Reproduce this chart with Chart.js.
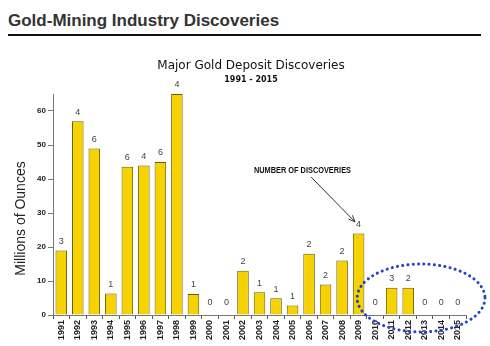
<!DOCTYPE html>
<html lang="en">
<head>
  <meta charset="UTF-8" />
  <title>Gold-Mining Industry Discoveries</title>
  <script src="https://cdn.jsdelivr.net/npm/chart.js"></script>
  <style>
    body {
      margin: 0;
      width: 490px;
      height: 346px;
      overflow: hidden;
      position: relative;
      background: #fff;
      font-family: "Liberation Sans", Arial, sans-serif;
    }
    h2 {
      position: absolute;
      left: 8px;
      top: 11px;
      margin: 0;
      font-size: 17px;
      line-height: 20px;
      color: #333;
    }
    .rule {
      position: absolute;
      left: 8px;
      top: 34px;
      width: 473px;
      height: 2px;
      background: #111;
    }
    .wrap {
      position: absolute;
      left: 0;
      top: 40px;
      width: 490px;
      height: 306px;
    }
  </style>
</head>
<body>
  <h2>Gold-Mining Industry Discoveries</h2>
  <div class="rule"></div>
  <div class="wrap"><canvas id="goldChart"></canvas></div>

  <script>
    const years = ['1991', '1992', '1993', '1994', '1995', '1996', '1997', '1998', '1999', '2000',
                   '2001', '2002', '2003', '2004', '2005', '2006', '2007', '2008', '2009', '2010',
                   '2011', '2012', '2013', '2014', '2015'];
    // million ounces found per year
    const ounces = [19, 57, 49, 6.3, 43.6, 44, 45, 65, 6.2, 0,
                    0, 13, 6.7, 4.9, 2.8, 18, 9, 16, 24, 0,
                    8, 8, 0, 0, 0];
    // number of deposits found per year (printed above bars)
    const discoveries = [3, 4, 6, 1, 6, 4, 6, 4, 1, 0,
                         0, 2, 1, 1, 1, 2, 2, 2, 4, 0,
                         3, 2, 0, 0, 0];
    const yTicks = [0, 10, 20, 30, 40, 50, 60];

    // counts above each bar, y axis title, arrow note and the dotted ring
    const extras = {
      id: 'extras',
      afterDatasetsDraw(chart) {
        const { ctx, chartArea, scales: { x, y } } = chart;
        const meta = chart.getDatasetMeta(0);
        ctx.save();

        ctx.font = '9px "Liberation Sans", Arial, sans-serif';
        ctx.fillStyle = '#444';
        ctx.textAlign = 'center';
        ctx.textBaseline = 'middle';
        meta.data.forEach((bar, i) => {
          const lift = ounces[i] === 0 ? 12 : 9;
          ctx.fillText(String(discoveries[i]), bar.x, bar.y - lift);
        });

        // y axis title
        ctx.save();
        ctx.translate(21, (chartArea.top + chartArea.bottom) / 2 + 14);
        ctx.rotate(-Math.PI / 2);
        ctx.font = '14px "Liberation Sans", Arial, sans-serif';
        ctx.fillStyle = '#222';
        ctx.fillText('Millions of Ounces', 0, 0);
        ctx.restore();

        // note with arrow pointing at 2009
        const note = 'NUMBER OF DISCOVERIES';
        ctx.font = 'bold 9px "Liberation Sans Narrow", "Liberation Sans", Arial, sans-serif';
        ctx.fillStyle = '#111';
        const w = ctx.measureText(note).width;
        const nx = x.getPixelForValue(14.6), ny = y.getPixelForValue(42.6);
        ctx.save();
        ctx.translate(nx, ny);
        ctx.scale(97 / w, 1);
        ctx.fillText(note, 0, 0);
        ctx.restore();

        const x0 = x.getPixelForValue(15.12), y0 = y.getPixelForValue(40.6);
        const x1 = x.getPixelForValue(17.78), y1 = y.getPixelForValue(27.4);
        const ang = Math.atan2(y1 - y0, x1 - x0);
        ctx.strokeStyle = '#333';
        ctx.lineWidth = 1;
        ctx.beginPath();
        ctx.moveTo(x0, y0);
        ctx.lineTo(x1, y1);
        ctx.moveTo(x1 - 7 * Math.cos(ang - 0.4), y1 - 7 * Math.sin(ang - 0.4));
        ctx.lineTo(x1, y1);
        ctx.lineTo(x1 - 7 * Math.cos(ang + 0.4), y1 - 7 * Math.sin(ang + 0.4));
        ctx.stroke();

        // dotted ring around the recent years
        const cx = x.getPixelForValue(21.78), cy = y.getPixelForValue(5);
        const rx = x.getPixelForValue(21.78 + 3.87) - cx;
        const ry = y.getPixelForValue(0) - y.getPixelForValue(10);
        ctx.strokeStyle = '#2443c8';
        ctx.lineWidth = 3;
        ctx.lineCap = 'round';
        ctx.setLineDash([0.1, 5.2]);
        ctx.beginPath();
        ctx.ellipse(cx, cy, rx, ry, 0, 0, Math.PI * 2);
        ctx.stroke();

        ctx.restore();
      }
    };

    new Chart(document.getElementById('goldChart'), {
      type: 'bar',
      data: {
        labels: years,
        datasets: [{
          data: ounces,
          backgroundColor: '#f6d200',
          borderColor: '#6e5c00',
          borderWidth: 1,
          borderSkipped: 'bottom',
          categoryPercentage: 1,
          barPercentage: 0.7
        }]
      },
      options: {
        responsive: true,
        maintainAspectRatio: false,
        animation: false,
        // left padding keeps the titles centred where they sit over the plot
        layout: { padding: { top: 0, right: 24, left: 36, bottom: 0 } },
        plugins: {
          legend: { display: false },
          tooltip: { enabled: false },
          title: {
            display: true,
            text: 'Major Gold Deposit Discoveries',
            color: '#111',
            font: { family: '"DejaVu Sans", Verdana, sans-serif', size: 12, weight: 'normal' },
            padding: { top: 18.8, bottom: 0 }
          },
          subtitle: {
            display: true,
            text: '1991 - 2015',
            color: '#111',
            font: { family: '"DejaVu Sans", Verdana, sans-serif', size: 8, weight: 'bold' },
            padding: { top: 2, bottom: 9.2 }
          }
        },
        scales: {
          x: {
            grid: { offset: true, drawOnChartArea: false, tickLength: 4, color: '#555' },
            border: { color: '#777' },
            ticks: {
              autoSkip: false,
              maxRotation: 90,
              minRotation: 90,
              padding: 1,
              color: '#222',
              font: { family: '"Liberation Sans", Arial, sans-serif', size: 9, weight: 'bold' }
            },
            afterFit(scale) { scale.height = 31; }
          },
          y: {
            min: 0,
            max: 65,
            grid: { drawOnChartArea: false, tickLength: 5, color: '#777' },
            border: { color: '#777' },
            ticks: {
              padding: 2,
              color: '#222',
              font: { family: '"Liberation Sans", Arial, sans-serif', size: 8, weight: 'bold' }
            },
            afterBuildTicks(scale) { scale.ticks = yTicks.map(v => ({ value: v })); },
            afterFit(scale) { scale.width = 17; }
          }
        }
      },
      plugins: [extras]
    });
  </script>
</body>
</html>
